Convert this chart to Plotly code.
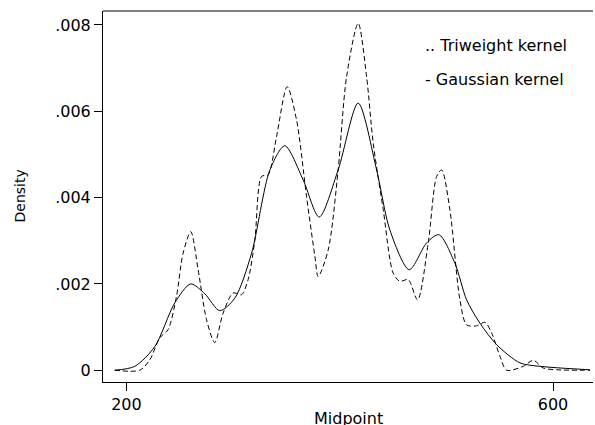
import plotly.graph_objects as go

# Gaussian kernel density estimate (solid)
gauss_x = [189, 207.8, 226.6, 245.3, 260.3, 273.5, 287.5, 301.6, 317.3, 334.5, 348.5,
           365.7, 380.7, 398.5, 417.3, 434.6, 447, 465.2, 481.5, 493, 508, 519, 531.5,
           547.2, 569, 587.8, 634.7]
gauss_y = [0.0, 0.00009, 0.00055, 0.00156, 0.0020, 0.00177, 0.00138, 0.00167, 0.00271,
           0.00464, 0.0052, 0.00441, 0.00355, 0.00464, 0.00619, 0.00464, 0.00325, 0.00233,
           0.00295, 0.00314, 0.00248, 0.00163, 0.00109, 0.00059, 0.00017, 0.00009, 0.00001]

# Triweight kernel density estimate (dashed)
tri_x = [189, 212.5, 221.9, 231.2, 239, 246.9, 253.1, 260.3, 267.2, 275.1, 282.8, 290.6,
         300, 307.9, 314.1, 320.4, 326.7, 332.9, 340.7, 350.7, 359.5, 368.9, 376.7, 379.8,
         389.2, 398.5, 406.4, 417.3, 425.2, 431.4, 440.8, 450.1, 456.4, 464.2, 473, 483,
         490.9, 495.6, 503.3, 512.7, 519, 528.4, 536.2, 542.5, 550.3, 556.5, 572.1, 581.5,
         590.9, 603.4, 634.7]
tri_y = [0.0, 0.0, 0.00024, 0.00075, 0.00094, 0.00171, 0.00271, 0.00321, 0.00233, 0.00117,
         0.00064, 0.00132, 0.00179, 0.00175, 0.0021, 0.00302, 0.00449, 0.00453, 0.00541,
         0.00657, 0.0058, 0.00402, 0.00264, 0.00217, 0.00279, 0.00464, 0.0068, 0.00804,
         0.0068, 0.00526, 0.00372, 0.00225, 0.00206, 0.0021, 0.00163, 0.00295, 0.00449,
         0.00464, 0.00372, 0.00163, 0.00105, 0.00103, 0.00111, 0.00086, 0.00032, 0.0,
         0.00009, 0.00023, 0.00005, 0.00001, 0.0]

y_tickvals = [0, 0.002, 0.004, 0.006, 0.008]
y_ticktext = ["0", ".002", ".004", ".006", ".008"]
x_tickvals = [200, 600]
x_ticktext = ["200", "600"]

FONT = "DejaVu Sans"

fig = go.Figure()
fig.add_trace(go.Scatter(x=tri_x, y=tri_y, mode="lines",
                         line=dict(color="black", width=1, dash="5px,3px", shape="spline", smoothing=0.8),
                         showlegend=False))
fig.add_trace(go.Scatter(x=gauss_x, y=gauss_y, mode="lines",
                         line=dict(color="black", width=1, shape="spline", smoothing=0.8),
                         showlegend=False))

fig.update_layout(
    width=595, height=425,
    margin=dict(l=103, r=2, t=11, b=43),
    paper_bgcolor="white", plot_bgcolor="white",
    font=dict(family=FONT, size=16, color="black"),
    xaxis=dict(range=[178, 637.5], tickvals=x_tickvals, ticktext=x_ticktext,
               showgrid=False, zeroline=False, showline=True, linecolor="black", linewidth=1,
               ticks="outside", ticklen=8, tickcolor="black", tickwidth=1),
    yaxis=dict(range=[-0.000273, 0.008324], tickvals=y_tickvals, ticktext=y_ticktext,
               showgrid=False, zeroline=False, showline=True, linecolor="black", linewidth=1,
               ticks="outside", ticklen=8, tickcolor="black", tickwidth=1),
    shapes=[dict(type="line", xref="paper", yref="paper", x0=0, x1=1, y0=1, y1=1,
                 line=dict(color="black", width=1))],
    annotations=[
        dict(text="Density", xref="paper", yref="paper", x=0, y=0.5, xshift=-84,
             textangle=-90, showarrow=False, xanchor="center", yanchor="middle",
             font=dict(family=FONT, size=14)),
        dict(text="Midpoint", xref="paper", yref="paper", x=0.5, y=0, yshift=-36,
             showarrow=False, xanchor="center", yanchor="middle",
             font=dict(family=FONT, size=16)),
        dict(text=".. Triweight kernel", xref="paper", yref="paper", x=0.653, y=1,
             yshift=-34, showarrow=False, xanchor="left", yanchor="middle",
             font=dict(family=FONT, size=16)),
        dict(text="- Gaussian kernel", xref="paper", yref="paper", x=0.653, y=1,
             yshift=-68, showarrow=False, xanchor="left", yanchor="middle",
             font=dict(family=FONT, size=16)),
    ],
)

fig.write_html("out.html")
